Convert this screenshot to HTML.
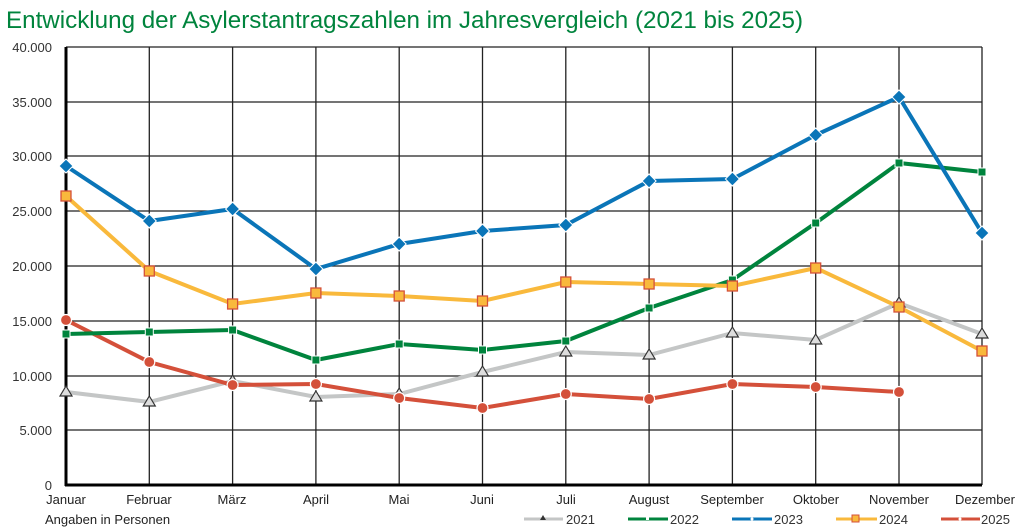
<!DOCTYPE html>
<html><head><meta charset="utf-8"><style>
body{margin:0;background:#fff;}
svg{display:block;font-family:"Liberation Sans",sans-serif;}
</style></head><body>
<svg width="1024" height="532" viewBox="0 0 1024 532">
<text x="6" y="28" font-size="24" fill="#00843d" textLength="797" lengthAdjust="spacingAndGlyphs">Entwicklung der Asylerstantragszahlen im Jahresvergleich (2021 bis 2025)</text>
<g stroke="#222" stroke-width="1.3">
<line x1="66" y1="47" x2="982" y2="47"/><line x1="66" y1="102" x2="982" y2="102"/><line x1="66" y1="156" x2="982" y2="156"/><line x1="66" y1="211" x2="982" y2="211"/><line x1="66" y1="266" x2="982" y2="266"/><line x1="66" y1="321" x2="982" y2="321"/><line x1="66" y1="376" x2="982" y2="376"/><line x1="66" y1="430" x2="982" y2="430"/>
<line x1="149.3" y1="47" x2="149.3" y2="485"/><line x1="232.6" y1="47" x2="232.6" y2="485"/><line x1="315.9" y1="47" x2="315.9" y2="485"/><line x1="399.2" y1="47" x2="399.2" y2="485"/><line x1="482.5" y1="47" x2="482.5" y2="485"/><line x1="565.8" y1="47" x2="565.8" y2="485"/><line x1="649.1" y1="47" x2="649.1" y2="485"/><line x1="732.4" y1="47" x2="732.4" y2="485"/><line x1="815.7" y1="47" x2="815.7" y2="485"/><line x1="899" y1="47" x2="899" y2="485"/><line x1="982" y1="47" x2="982" y2="485"/>
</g>
<line x1="66" y1="47" x2="66" y2="486" stroke="#000" stroke-width="3"/>
<line x1="65" y1="485" x2="982" y2="485" stroke="#000" stroke-width="3"/>
<g font-size="13" fill="#333" text-anchor="end">
<text x="52" y="52">40.000</text><text x="52" y="107">35.000</text><text x="52" y="161">30.000</text><text x="52" y="216">25.000</text><text x="52" y="271">20.000</text><text x="52" y="326">15.000</text><text x="52" y="381">10.000</text><text x="52" y="435">5.000</text><text x="52" y="490">0</text>
</g>
<g font-size="13" fill="#222" text-anchor="middle">
<text x="66" y="504">Januar</text><text x="149" y="504">Februar</text><text x="232" y="504">März</text><text x="316" y="504">April</text><text x="399" y="504">Mai</text><text x="482" y="504">Juni</text><text x="566" y="504">Juli</text><text x="649" y="504">August</text><text x="732" y="504">September</text><text x="816" y="504">Oktober</text><text x="899" y="504">November</text><text x="985" y="504">Dezember</text>
</g>
<text x="45" y="524" font-size="13" fill="#222">Angaben in Personen</text>
<polyline fill="none" stroke="#c4c6c6" stroke-width="4" points="66,392 149.3,402 232.6,381 315.9,397 399.2,394 482.5,372 565.8,352 649.1,355 732.4,333 815.7,340 899,303 982,334"/>
<g fill="#ddd" stroke="#333" stroke-width="1.2">
<path d="M66,386 l6,10 h-12z"/><path d="M149.3,396 l6,10 h-12z"/><path d="M232.6,375 l6,10 h-12z"/><path d="M315.9,391 l6,10 h-12z"/><path d="M399.2,388 l6,10 h-12z"/><path d="M482.5,366 l6,10 h-12z"/><path d="M565.8,346 l6,10 h-12z"/><path d="M649.1,349 l6,10 h-12z"/><path d="M732.4,327 l6,10 h-12z"/><path d="M815.7,334 l6,10 h-12z"/><path d="M899,297 l6,10 h-12z"/><path d="M982,328 l6,10 h-12z"/>
</g>
<polyline fill="none" stroke="#d4503a" stroke-width="4" points="66,320 149.3,362 232.6,385 315.9,384 399.2,398 482.5,408 565.8,394 649.1,399 732.4,384 815.7,387 899,392"/>
<g fill="#d4503a" stroke="#fff" stroke-width="1.2">
<circle cx="66" cy="320" r="5.5"/><circle cx="149.3" cy="362" r="5.5"/><circle cx="232.6" cy="385" r="5.5"/><circle cx="315.9" cy="384" r="5.5"/><circle cx="399.2" cy="398" r="5.5"/><circle cx="482.5" cy="408" r="5.5"/><circle cx="565.8" cy="394" r="5.5"/><circle cx="649.1" cy="399" r="5.5"/><circle cx="732.4" cy="384" r="5.5"/><circle cx="815.7" cy="387" r="5.5"/><circle cx="899" cy="392" r="5.5"/>
</g>
<polyline fill="none" stroke="#00843d" stroke-width="4" points="66,334 149.3,332 232.6,330 315.9,360 399.2,344 482.5,350 565.8,341 649.1,308 732.4,280 815.7,223 899,163 982,172"/>
<g fill="#00843d" stroke="#fff" stroke-width="1">
<rect x="62" y="330" width="8" height="8"/><rect x="145.3" y="328" width="8" height="8"/><rect x="228.6" y="326" width="8" height="8"/><rect x="311.9" y="356" width="8" height="8"/><rect x="395.2" y="340" width="8" height="8"/><rect x="478.5" y="346" width="8" height="8"/><rect x="561.8" y="337" width="8" height="8"/><rect x="645.1" y="304" width="8" height="8"/><rect x="728.4" y="276" width="8" height="8"/><rect x="811.7" y="219" width="8" height="8"/><rect x="895" y="159" width="8" height="8"/><rect x="978" y="168" width="8" height="8"/>
</g>
<polyline fill="none" stroke="#f9b93c" stroke-width="4" points="66,196 149.3,271 232.6,304 315.9,293 399.2,296 482.5,301 565.8,282 649.1,284 732.4,286 815.7,268 899,307 982,351"/>
<g fill="#f9b93c" stroke="#d4503a" stroke-width="1.3">
<rect x="61" y="191" width="10" height="10"/><rect x="144.3" y="266" width="10" height="10"/><rect x="227.6" y="299" width="10" height="10"/><rect x="310.9" y="288" width="10" height="10"/><rect x="394.2" y="291" width="10" height="10"/><rect x="477.5" y="296" width="10" height="10"/><rect x="560.8" y="277" width="10" height="10"/><rect x="644.1" y="279" width="10" height="10"/><rect x="727.4" y="281" width="10" height="10"/><rect x="810.7" y="263" width="10" height="10"/><rect x="894" y="302" width="10" height="10"/><rect x="977" y="346" width="10" height="10"/>
</g>
<polyline fill="none" stroke="#0a75b8" stroke-width="4" points="66,166 149.3,221 232.6,209 315.9,269 399.2,244 482.5,231 565.8,225 649.1,181 732.4,179 815.7,135 899,97 982,233"/>
<g fill="#0a75b8" stroke="#fff" stroke-width="1">
<path d="M66,159 l7,7 -7,7 -7,-7z"/><path d="M149.3,214 l7,7 -7,7 -7,-7z"/><path d="M232.6,202 l7,7 -7,7 -7,-7z"/><path d="M315.9,262 l7,7 -7,7 -7,-7z"/><path d="M399.2,237 l7,7 -7,7 -7,-7z"/><path d="M482.5,224 l7,7 -7,7 -7,-7z"/><path d="M565.8,218 l7,7 -7,7 -7,-7z"/><path d="M649.1,174 l7,7 -7,7 -7,-7z"/><path d="M732.4,172 l7,7 -7,7 -7,-7z"/><path d="M815.7,128 l7,7 -7,7 -7,-7z"/><path d="M899,90 l7,7 -7,7 -7,-7z"/><path d="M982,226 l7,7 -7,7 -7,-7z"/>
</g>
<g font-size="13" fill="#333">
<line x1="524" y1="519" x2="563" y2="519" stroke="#c4c6c6" stroke-width="3"/><path d="M543,515 l3,5 h-6z" fill="#333"/><text x="566" y="524">2021</text>
<line x1="628" y1="519" x2="668" y2="519" stroke="#00843d" stroke-width="3"/><rect x="646" y="517" width="3" height="3" fill="#fff"/><text x="670" y="524">2022</text>
<line x1="732" y1="519" x2="772" y2="519" stroke="#0a75b8" stroke-width="3"/><circle cx="752" cy="519" r="1.5" fill="#fff"/><text x="774" y="524">2023</text>
<line x1="836" y1="519" x2="877" y2="519" stroke="#f9b93c" stroke-width="3"/><rect x="852" y="515" width="7" height="7" fill="#f9b93c" stroke="#d4503a"/><text x="879" y="524">2024</text>
<line x1="941" y1="519" x2="980" y2="519" stroke="#d4503a" stroke-width="3"/><circle cx="960" cy="519" r="1.5" fill="#fff"/><text x="981" y="524">2025</text>
</g>
</svg>
</body></html>
